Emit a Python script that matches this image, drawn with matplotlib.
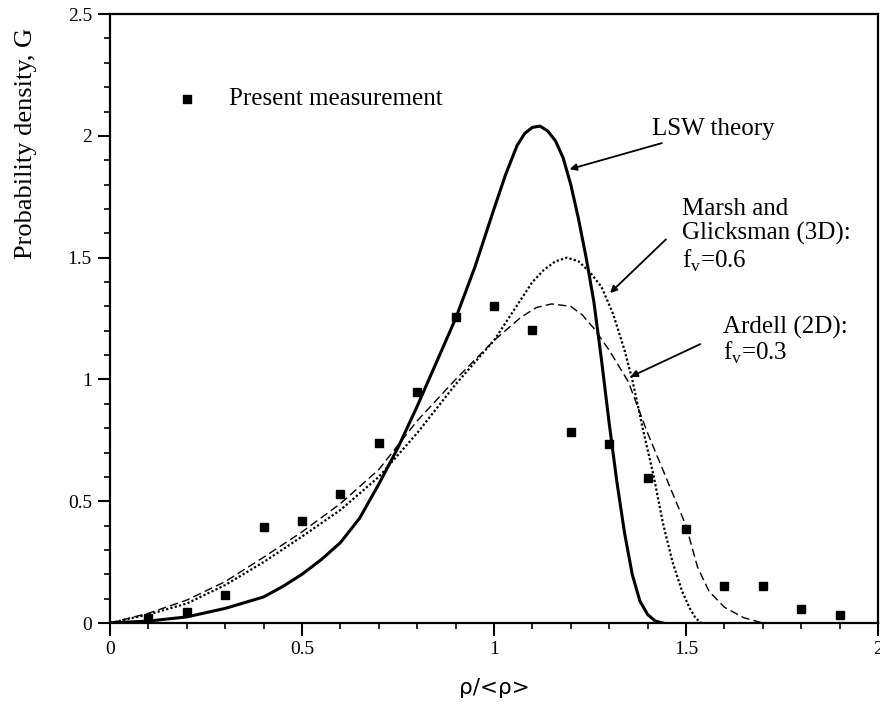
import numpy as np
import matplotlib
matplotlib.use("Agg")
import matplotlib.pyplot as plt

plt.rcParams['font.family'] = ['Liberation Serif', 'DejaVu Serif']
plt.rcParams['mathtext.fontset'] = 'custom'
plt.rcParams['mathtext.rm'] = 'Liberation Serif'

# measured points
meas_x = [0.1, 0.2, 0.3, 0.4, 0.5, 0.6, 0.7, 0.8, 0.9, 1.0,
          1.1, 1.2, 1.3, 1.4, 1.5, 1.6, 1.7, 1.8, 1.9]
meas_y = [0.022, 0.045, 0.115, 0.395, 0.42, 0.53, 0.74, 0.95, 1.257, 1.30,
          1.203, 0.785, 0.735, 0.595, 0.386, 0.15, 0.15, 0.056, 0.033]

# LSW theory
lsw_x = [0, 0.1, 0.2, 0.3, 0.4, 0.45, 0.5, 0.55, 0.6, 0.65, 0.7, 0.75, 0.8, 0.85, 0.9, 0.95,
         1.0, 1.03, 1.06, 1.08, 1.1, 1.12, 1.14, 1.16, 1.18, 1.2, 1.22, 1.24, 1.26, 1.28, 1.3,
         1.32, 1.34, 1.36, 1.38, 1.4, 1.42, 1.44]
lsw_y = [0, 0.008, 0.025, 0.06, 0.107, 0.15, 0.2, 0.26, 0.33, 0.43, 0.57, 0.72, 0.89, 1.07, 1.25, 1.46,
         1.70, 1.84, 1.96, 2.01, 2.035, 2.04, 2.02, 1.98, 1.91, 1.80, 1.66, 1.50, 1.32, 1.08, 0.82,
         0.58, 0.37, 0.20, 0.09, 0.035, 0.008, 0]

# Marsh and Glicksman (3D), fv=0.6
mg_x = [0, 0.1, 0.2, 0.3, 0.4, 0.5, 0.6, 0.7, 0.8, 0.9, 1.0, 1.05, 1.1, 1.13, 1.16, 1.19,
        1.22, 1.25, 1.28, 1.31, 1.34, 1.36, 1.39, 1.415, 1.44, 1.465, 1.49, 1.51, 1.525, 1.54]
mg_y = [0, 0.035, 0.08, 0.156, 0.25, 0.355, 0.464, 0.6, 0.78, 0.98, 1.16, 1.28, 1.40, 1.45, 1.485, 1.50,
        1.485, 1.44, 1.38, 1.27, 1.12, 1.0, 0.78, 0.61, 0.41, 0.25, 0.13, 0.06, 0.02, 0]

# Ardell (2D), fv=0.3
ar_x = [0, 0.1, 0.2, 0.3, 0.4, 0.5, 0.6, 0.7, 0.76, 0.8, 0.9, 1.0, 1.07, 1.11, 1.15,
        1.2, 1.23, 1.26, 1.3, 1.35, 1.4, 1.45, 1.5, 1.53, 1.56, 1.6, 1.65, 1.7]
ar_y = [0, 0.04, 0.094, 0.17, 0.27, 0.374, 0.49, 0.63, 0.75, 0.83, 1.0, 1.16, 1.255, 1.295, 1.31,
        1.30, 1.265, 1.21, 1.12, 0.99, 0.78, 0.59, 0.40, 0.23, 0.13, 0.065, 0.022, 0]

x_ticks = [0, 0.5, 1, 1.5, 2]
x_tick_labels = ['0', '0.5', '1', '1.5', '2']
y_ticks = [0, 0.5, 1, 1.5, 2, 2.5]
y_tick_labels = ['0', '0.5', '1', '1.5', '2', '2.5']

fig = plt.figure(figsize=(8.8, 7.05), dpi=100)
ax = fig.add_axes([0.125, 0.1163, 0.8727, 0.8637])

ax.plot(lsw_x, lsw_y, 'k-', lw=2.2)
ax.plot(mg_x, mg_y, color='k', ls=(0, (1, 1)), lw=1.6)
ax.plot(ar_x, ar_y, color='k', ls=(0, (6, 3)), lw=1.0)
ax.plot(meas_x, meas_y, 'ks', ms=6)

# legend entry drawn by hand like the original
ax.plot([0.2], [2.15], 'ks', ms=6)
ax.text(0.31, 2.15, 'Present measurement', fontsize=18, va='center')

arw = dict(arrowstyle='-|>', color='k', lw=1.3, mutation_scale=10)
ax.annotate('LSW theory', xy=(1.19, 1.86), xytext=(1.411, 2.03),
            fontsize=18, va='center', arrowprops=arw)
ax.annotate('', xy=(1.297, 1.347), xytext=(1.453, 1.583), arrowprops=arw)
ax.text(1.49, 1.59, 'Marsh and\nGlicksman (3D):\nf$_\\mathregular{v}$=0.6',
        fontsize=18, va='center', linespacing=1.12)
ax.annotate('', xy=(1.349, 1.006), xytext=(1.544, 1.15), arrowprops=arw)
ax.text(1.596, 1.158, 'Ardell (2D):\nf$_\\mathregular{v}$=0.3',
        fontsize=18, va='center', linespacing=1.05)

ax.set_xlim(0, 2)
ax.set_ylim(0, 2.5)
ax.set_xticks(x_ticks)
ax.set_xticklabels(x_tick_labels)
ax.set_xticks(np.arange(0, 2.01, 0.1), minor=True)
ax.set_yticks(y_ticks)
ax.set_yticklabels(y_tick_labels)
ax.set_yticks(np.arange(0, 2.51, 0.1), minor=True)
ax.tick_params(which='major', direction='out', length=9, width=1.5, labelsize=14, pad=4)
ax.tick_params(which='minor', direction='out', length=4.5, width=1.2)
ax.tick_params(which='both', top=False, right=False)
for s in ax.spines.values():
    s.set_linewidth(1.6)

ax.set_xlabel('ρ/<ρ>', fontsize=15.5, family='DejaVu Sans', labelpad=14)
# y label sits high on the left side, as in the original
fig.text(0.03, 0.96, 'Probability density, G', fontsize=19, rotation=90,
         ha='center', va='top')

plt.savefig('out.png', dpi=100)
